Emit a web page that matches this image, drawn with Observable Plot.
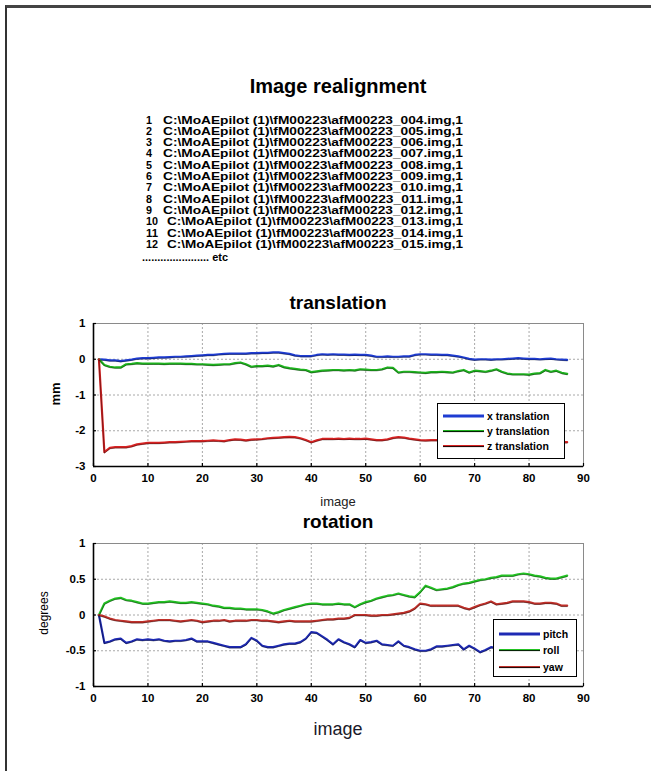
<!DOCTYPE html>
<html><head><meta charset="utf-8">
<script src="https://cdn.jsdelivr.net/npm/d3@7"></script>
<script src="https://cdn.jsdelivr.net/npm/@observablehq/plot@0.6"></script>
<style>
body{margin:0;background:#fff;}
#root{position:relative;width:651px;height:771px;overflow:hidden;background:#fff;font-family:"Liberation Sans",Arial,sans-serif;color:#000;}
.abs{position:absolute;white-space:nowrap;}
.legend{position:absolute;background:#fff;border:1.5px solid #000;box-sizing:border-box;}
</style></head><body><div id="root"></div>
<script>
// ---------- data ----------
const imageIndex = d3.range(1, 88);
const xTicks = [0, 10, 20, 30, 40, 50, 60, 70, 80, 90];
const translationTicksY = [1, 0, -1, -2, -3];
const rotationTicksY = [1, 0.5, 0, -0.5, -1];

const translationNames = ["x translation", "y translation", "z translation"];
const rotationNames = ["pitch", "roll", "yaw"];

const xTranslation = [0,-0.01,-0.03,-0.03,-0.05,-0.03,-0.01,0.02,0.03,0.03,0.04,0.05,0.05,0.06,0.07,0.07,0.08,0.09,0.10,0.11,0.12,0.12,0.14,0.15,0.16,0.16,0.16,0.16,0.17,0.17,0.18,0.18,0.19,0.19,0.17,0.15,0.11,0.09,0.09,0.09,0.12,0.14,0.13,0.14,0.13,0.13,0.12,0.13,0.12,0.12,0.10,0.07,0.07,0.08,0.07,0.07,0.08,0.08,0.12,0.14,0.14,0.13,0.13,0.12,0.12,0.10,0.08,0.05,0.01,-0.01,0.0,0.0,-0.01,0.0,0.0,0.01,0.02,0.03,0.02,0.01,0.01,0.0,0.01,0.02,0.0,-0.01,-0.02];
const yTranslation = [0,-0.16,-0.21,-0.23,-0.23,-0.14,-0.13,-0.11,-0.12,-0.12,-0.12,-0.12,-0.13,-0.12,-0.12,-0.12,-0.13,-0.13,-0.14,-0.14,-0.15,-0.16,-0.15,-0.14,-0.14,-0.11,-0.09,-0.14,-0.21,-0.19,-0.19,-0.18,-0.2,-0.16,-0.22,-0.25,-0.27,-0.29,-0.3,-0.36,-0.34,-0.32,-0.31,-0.3,-0.3,-0.31,-0.3,-0.31,-0.28,-0.29,-0.3,-0.3,-0.28,-0.23,-0.24,-0.37,-0.35,-0.35,-0.36,-0.37,-0.38,-0.36,-0.36,-0.35,-0.36,-0.37,-0.33,-0.3,-0.37,-0.32,-0.33,-0.35,-0.32,-0.28,-0.35,-0.4,-0.42,-0.42,-0.42,-0.43,-0.4,-0.39,-0.3,-0.35,-0.32,-0.38,-0.41];
const zTranslation = [0,-2.6,-2.48,-2.46,-2.46,-2.46,-2.43,-2.38,-2.36,-2.34,-2.34,-2.34,-2.33,-2.32,-2.32,-2.31,-2.3,-2.29,-2.29,-2.29,-2.28,-2.27,-2.28,-2.29,-2.26,-2.24,-2.25,-2.27,-2.25,-2.24,-2.23,-2.21,-2.2,-2.19,-2.18,-2.17,-2.18,-2.21,-2.26,-2.32,-2.27,-2.23,-2.23,-2.23,-2.22,-2.23,-2.22,-2.23,-2.23,-2.22,-2.24,-2.26,-2.26,-2.24,-2.2,-2.18,-2.19,-2.22,-2.24,-2.26,-2.27,-2.26,-2.26,-2.25,-2.24,-2.25,-2.26,-2.27,-2.28,-2.28,-2.27,-2.28,-2.29,-2.28,-2.29,-2.3,-2.3,-2.3,-2.31,-2.3,-2.31,-2.31,-2.3,-2.31,-2.32,-2.32,-2.32];

const pitch = [0,-0.39,-0.37,-0.34,-0.33,-0.39,-0.37,-0.34,-0.35,-0.34,-0.35,-0.34,-0.36,-0.37,-0.36,-0.36,-0.35,-0.33,-0.37,-0.37,-0.37,-0.39,-0.41,-0.43,-0.45,-0.45,-0.45,-0.41,-0.32,-0.36,-0.43,-0.45,-0.45,-0.43,-0.41,-0.4,-0.4,-0.38,-0.33,-0.24,-0.25,-0.3,-0.35,-0.41,-0.34,-0.38,-0.41,-0.45,-0.35,-0.39,-0.38,-0.36,-0.41,-0.42,-0.43,-0.37,-0.43,-0.45,-0.48,-0.5,-0.5,-0.48,-0.44,-0.44,-0.43,-0.42,-0.41,-0.48,-0.43,-0.47,-0.52,-0.49,-0.45,-0.46,-0.45,-0.44,-0.46,-0.47,-0.45,-0.44,-0.46,-0.47,-0.45,-0.46,-0.48,-0.47,-0.46];
const roll = [0,0.16,0.2,0.23,0.24,0.21,0.2,0.18,0.16,0.16,0.17,0.18,0.18,0.19,0.18,0.17,0.17,0.18,0.17,0.16,0.15,0.13,0.12,0.1,0.1,0.09,0.09,0.08,0.08,0.08,0.07,0.05,0.02,0.04,0.07,0.09,0.11,0.13,0.15,0.16,0.16,0.15,0.15,0.15,0.16,0.15,0.15,0.11,0.15,0.18,0.2,0.23,0.25,0.27,0.28,0.3,0.28,0.26,0.25,0.32,0.41,0.38,0.35,0.36,0.37,0.39,0.42,0.44,0.45,0.47,0.49,0.5,0.52,0.53,0.55,0.55,0.55,0.57,0.58,0.57,0.55,0.54,0.52,0.51,0.51,0.53,0.55];
const yaw = [0,-0.02,-0.05,-0.07,-0.08,-0.09,-0.1,-0.1,-0.1,-0.09,-0.08,-0.07,-0.07,-0.07,-0.08,-0.09,-0.08,-0.07,-0.08,-0.1,-0.09,-0.08,-0.08,-0.07,-0.09,-0.08,-0.08,-0.08,-0.07,-0.07,-0.08,-0.08,-0.09,-0.1,-0.09,-0.08,-0.09,-0.09,-0.09,-0.09,-0.08,-0.07,-0.06,-0.06,-0.05,-0.05,-0.04,0,0,0,-0.01,-0.01,0,0,0.01,0.02,0.03,0.05,0.09,0.16,0.15,0.13,0.13,0.13,0.13,0.13,0.13,0.1,0.08,0.11,0.14,0.16,0.19,0.15,0.16,0.17,0.19,0.19,0.19,0.18,0.16,0.16,0.17,0.17,0.16,0.13,0.13];

const fileNumbers = [1, 2, 3, 4, 5, 6, 7, 8, 9, 10, 11, 12];
const fileSuffixes = ["004","005","006","007","008","009","010","011","012","013","014","015"];

const seriesColors = ["#1e3cd2", "#1eb41e", "#d72323"];
const rotationColors = ["#1e2ab4", "#23c323", "#c0302a"];

// ---------- layout ----------
const root = document.getElementById("root");
const ff = "Liberation Sans, Arial, sans-serif";
function addDiv(text, css) {
  const d = document.createElement("div");
  d.className = "abs";
  d.textContent = text;
  Object.assign(d.style, css);
  root.appendChild(d);
  return d;
}

// frame lines
const fr = document.createElement("div");
Object.assign(fr.style, {position: "absolute", left: "5px", top: "5px", width: "700px", height: "800px",
  borderLeft: "2px solid #333", borderTop: "3px solid #444"});
root.appendChild(fr);

// header as svg text
const NS = "http://www.w3.org/2000/svg";
const hdr = document.createElementNS(NS, "svg");
hdr.setAttribute("width", 651); hdr.setAttribute("height", 280);
hdr.style.position = "absolute"; hdr.style.left = "0px"; hdr.style.top = "0px";
root.appendChild(hdr);
function svgText(parent, str, attrs) {
  const t = document.createElementNS(NS, "text");
  t.textContent = str;
  for (const k in attrs) t.setAttribute(k, attrs[k]);
  parent.appendChild(t);
  return t;
}
svgText(hdr, "Image realignment", {x: 338, y: 93, "text-anchor": "middle", "font-family": ff, "font-weight": "bold", "font-size": 20});
fileNumbers.forEach((n, i) => {
  const y = 123.5 + i * 11.3;
  svgText(hdr, String(n), {x: 146, y, "font-family": ff, "font-weight": "bold", "font-size": 11.5,
    textLength: n < 10 ? 6 : 12, lengthAdjust: "spacingAndGlyphs"});
  const x0 = n < 10 ? 163 : 167;
  svgText(hdr, "C:\\MoAEpilot (1)\\fM00223\\afM00223_" + fileSuffixes[i] + ".img,1", {x: x0, y,
    "font-family": ff, "font-weight": "bold", "font-size": 11.5,
    textLength: 463 - x0, lengthAdjust: "spacingAndGlyphs"});
});
svgText(hdr, "...................... etc", {x: 142, y: 261, "font-family": ff, "font-weight": "bold", "font-size": 10.5,
  textLength: 86, lengthAdjust: "spacingAndGlyphs"});

// ---------- charts ----------
function makeChart({names, values, colors, yDomain, yTicks, top, height, mt, mb}) {
  const data = names.flatMap((name, k) => values[k].map((v, i) => ({image: imageIndex[i], value: v, name})));
  const grid = {stroke: "#a8a8a8", strokeOpacity: 1, strokeDasharray: "2,2", strokeWidth: 1};
  const chart = Plot.plot({
    width: 651, height, marginTop: mt, marginBottom: mb, marginLeft: 93, marginRight: 68,
    style: {fontFamily: ff, fontSize: "11.5px", fontWeight: "bold", background: "transparent", color: "#000"},
    x: {type: "linear", domain: [0, 90]},
    y: {type: "linear", domain: yDomain},
    color: {type: "ordinal", domain: names, range: colors},
    marks: [
      Plot.gridX(xTicks, grid),
      Plot.gridY(yTicks, grid),
      Plot.frame({stroke: "#8a8a8a", strokeWidth: 1}),
      Plot.axisX(xTicks, {tickSize: 0, tickPadding: 7, label: null, tickFormat: d => String(d)}),
      Plot.axisY(yTicks, {tickSize: 0, tickPadding: 8, label: null, tickFormat: d => String(d)}),
      Plot.ruleX(xTicks, {x: d => d, y1: yDomain[0], y2: yDomain[0], insetTop: -3, stroke: "#000", strokeWidth: 1.2}),
      Plot.ruleY(yTicks, {y: d => d, x1: 0, x2: 0, insetRight: -3, stroke: "#000", strokeWidth: 1.2}),
      Plot.ruleX([0], {stroke: "#000", strokeWidth: 1.6}),
      Plot.ruleY([yDomain[0]], {stroke: "#000", strokeWidth: 1.6}),
      Plot.line(data, {x: "image", y: "value", z: "name", stroke: "name", strokeWidth: 2.2}),
      Plot.line(data, {x: "image", y: "value", z: "name", stroke: "#000", strokeWidth: 0.7, strokeOpacity: 0.55, dy: 0.9})
    ]
  });
  chart.style.position = "absolute";
  chart.style.left = "0px";
  chart.style.top = top + "px";
  root.appendChild(chart);
}

makeChart({names: translationNames, values: [xTranslation, yTranslation, zTranslation], colors: seriesColors,
  yDomain: [-3, 1], yTicks: translationTicksY, top: 285, height: 230, mt: 38, mb: 49});
makeChart({names: rotationNames, values: [pitch, roll, yaw], colors: rotationColors,
  yDomain: [-1, 1], yTicks: rotationTicksY, top: 515, height: 230, mt: 28, mb: 59});

// titles and axis labels
addDiv("translation", {left: "0px", width: "676px", textAlign: "center", top: "292px", fontSize: "19px", fontWeight: "bold", lineHeight: "22px"});
addDiv("image", {left: "0px", width: "676px", textAlign: "center", top: "494px", fontSize: "13px", lineHeight: "16px", color: "#222"});
addDiv("rotation", {left: "0px", width: "676px", textAlign: "center", top: "511px", fontSize: "19px", fontWeight: "bold", lineHeight: "22px"});
addDiv("image", {left: "0px", width: "676px", textAlign: "center", top: "718px", fontSize: "18px", lineHeight: "22px", color: "#1a1a2a"});
addDiv("mm", {left: "56px", top: "394px", fontSize: "13px", fontWeight: "bold", lineHeight: "14px", transform: "translate(-50%,-50%) rotate(-90deg)"});
addDiv("degrees", {left: "44px", top: "613px", fontSize: "12px", lineHeight: "14px", transform: "translate(-50%,-50%) rotate(-90deg)"});

// legends
function legend(names, colors, left, top, w, h, rowYs, lineX0, lineX1, widths) {
  const box = document.createElement("div");
  box.className = "legend";
  Object.assign(box.style, {left: left + "px", top: top + "px", width: w + "px", height: h + "px"});
  const s = document.createElementNS(NS, "svg");
  s.setAttribute("width", w); s.setAttribute("height", h);
  s.style.position = "absolute"; s.style.left = "-1.5px"; s.style.top = "-1.5px";
  names.forEach((name, i) => {
    const l = document.createElementNS(NS, "line");
    l.setAttribute("x1", lineX0); l.setAttribute("x2", lineX1);
    l.setAttribute("y1", rowYs[i]); l.setAttribute("y2", rowYs[i]);
    l.setAttribute("stroke", colors[i]); l.setAttribute("stroke-width", widths[i]);
    s.appendChild(l);
    if (i > 0) {
      const l2 = l.cloneNode();
      l2.setAttribute("stroke", "#000"); l2.setAttribute("stroke-width", 0.9);
      l2.setAttribute("y1", rowYs[i] + 0.6); l2.setAttribute("y2", rowYs[i] + 0.6);
      s.appendChild(l2);
    }
    svgText(s, name, {x: lineX1 + 3, y: rowYs[i] + 4, "font-family": ff, "font-weight": "bold", "font-size": 10.5});
  });
  box.appendChild(s);
  root.appendChild(box);
}
legend(translationNames, seriesColors, 437, 403, 128, 56, [13, 28, 43], 6, 47, [3, 2, 2]);
legend(rotationNames, rotationColors, 493, 619, 84, 58, [15, 31, 48], 6, 47, [3, 2, 2]);
</script></body></html>
